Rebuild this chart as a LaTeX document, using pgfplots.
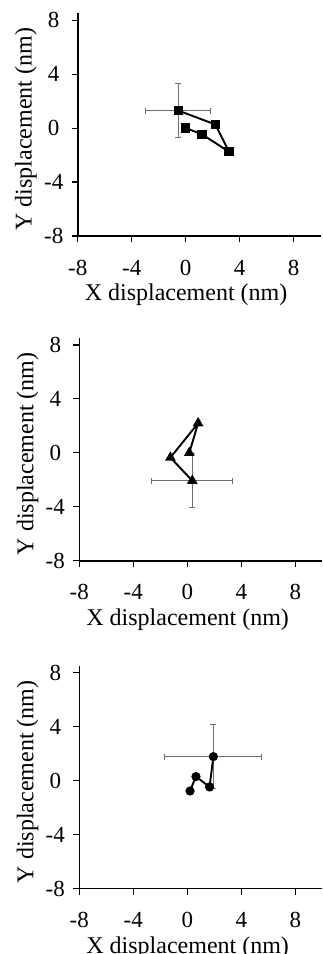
\documentclass[border=0pt]{standalone}
\usepackage{fontspec}
\setmainfont{Liberation Serif}
\usepackage{pgfplots}
\pgfplotsset{compat=1.18}
\definecolor{errgray}{HTML}{6E6E6E}
\pgfplotsset{
  panel/.style={
    scale only axis, width=243bp, height=222.5bp,
    xmin=-8, xmax=10, ymin=-8, ymax=8.5,
    axis lines=left, axis line style={-, line width=1.6bp, black},
    xtick={-8,-4,0,4,8}, ytick={-8,-4,0,4,8},
    tick align=outside, major tick length=6bp,
    tick style={line width=1.2bp, black},
    /pgf/number format/assume math mode=true,
    ticklabel style={font=\fontsize{23bp}{27bp}\selectfont},
    xticklabel style={anchor=base, yshift=-33bp},
    yticklabel style={anchor=center, xshift=-18bp},
    label style={font=\fontsize{24bp}{28bp}\selectfont},
    xlabel={X displacement (nm)}, ylabel={Y displacement (nm)},
    xlabel style={at={(axis description cs:0.446,-0.292)}, anchor=base},
    ylabel style={at={(axis description cs:-0.213,0.48)}, anchor=center},
    clip=false,
  },
  errs/.style={only marks, mark=none,
    error bars/.cd, x dir=both, x explicit, y dir=both, y explicit,
    error mark=-,
    error bar style={line width=1bp, errgray},
    error mark options={rotate=90, line width=1bp, errgray, mark size=3bp}},
  ser/.style={black, line width=1.9bp, mark options={solid, fill=black}},
}
\begin{document}
\begin{tikzpicture}
\useasboundingbox (0,0) rectangle (323bp,-954bp);
% Panel 1
\begin{axis}[panel, at={(77.7bp,-236bp)}, anchor=south west]
\addplot[errs] coordinates {(-0.55,1.3) +- (2.4,2.0)};
\addplot[ser, mark=square*, mark size=3.7bp] coordinates {
(0,0) (1.2,-0.45) (3.2,-1.75) (2.2,0.27) (-0.55,1.3)};
\end{axis}
% Panel 2
\begin{axis}[panel, at={(79.3bp,-560.7bp)}, anchor=south west]
\addplot[errs] coordinates {(0.37,-2.07) +- (3.0,2.0)};
\addplot[ser, mark=triangle*, mark size=4.3bp] coordinates {
(0.15,0) (0.8,2.2) (-1.25,-0.35) (0.37,-2.07)};
\end{axis}
% Panel 3
\begin{axis}[panel, at={(79.3bp,-888.5bp)}, anchor=south west]
\addplot[errs] coordinates {(1.93,1.78) +- (3.6,2.4)};
\addplot[ser, mark=*, mark size=3.6bp] coordinates {
(0.2,-0.77) (0.64,0.3) (1.65,-0.47) (1.93,1.78)};
\end{axis}
\end{tikzpicture}
\end{document}
